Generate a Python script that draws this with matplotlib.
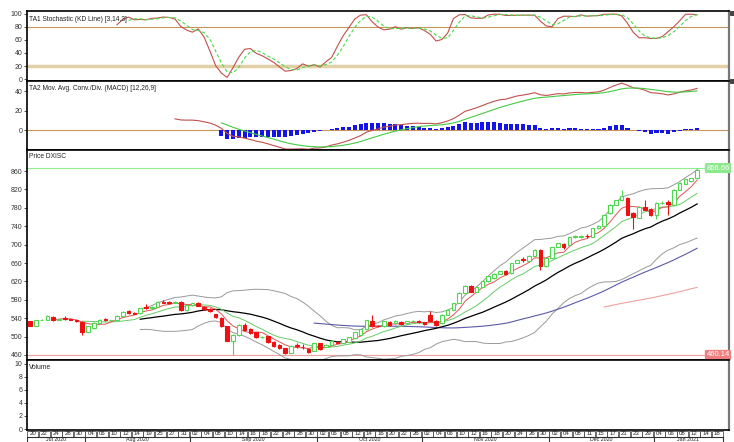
import numpy as np
import pandas as pd
import matplotlib
matplotlib.use("Agg")
import matplotlib.pyplot as plt
from matplotlib.patches import Rectangle

# daily candles (index = trading day)
opens = [533, 524, 536, 536, 543, 537, 540, 538, 535, 532, 511, 519, 530, 538, 535, 536, 545, 555, 552, 551,
         565, 562, 565, 576, 575, 574, 576, 558, 569, 573, 565, 561, 549, 540, 523, 491, 504, 525, 516, 509,
         499, 501, 489, 482, 475, 465, 481, 478, 474, 469, 485, 478, 482, 489, 487, 489, 496, 504, 516, 533,
         524, 522, 531, 529, 531, 529, 533, 534, 531, 547, 534, 529, 547, 558, 573, 595, 610, 598, 608, 620,
         627, 637, 643, 638, 660, 668, 664, 676, 689, 654, 671, 695, 702, 700, 717, 717, 719, 717, 736, 741,
         768, 787, 797, 802, 768, 758, 782, 778, 765, 790, 792, 787, 819, 833, 838, 845]
highs = [534, 536, 538, 546, 544, 539, 544, 539, 536, 533, 523, 531, 538, 540, 537, 546, 555, 557, 553, 563,
         570, 566, 577, 579, 578, 577, 578, 570, 573, 575, 567, 563, 550, 542, 524, 505, 527, 530, 518, 510,
         502, 502, 491, 483, 476, 481, 486, 483, 476, 486, 487, 483, 492, 490, 495, 500, 510, 517, 536, 546,
         526, 534, 533, 535, 533, 534, 536, 536, 532, 555, 536, 548, 559, 574, 596, 612, 612, 609, 621, 632,
         638, 643, 645, 660, 667, 674, 677, 690, 691, 672, 695, 704, 704, 717, 720, 720, 724, 737, 742, 766,
         788, 798, 819, 803, 770, 783, 797, 780, 792, 796, 798, 820, 836, 843, 846, 866.66]
lows = [522, 523, 535, 535, 534, 536, 537, 535, 532, 503, 509, 517, 529, 534, 534, 535, 544, 550, 548, 550,
        560, 561, 564, 572, 571, 572, 555, 556, 567, 566, 557, 554, 540, 520, 490, 460.14, 502, 512, 505, 497,
        497, 487, 478, 473, 463, 464, 476, 472, 465, 468, 470, 477, 481, 486, 486, 488, 495, 503, 515, 520,
        521, 521, 524, 528, 526, 528, 532, 530, 526, 532, 524, 528, 546, 557, 572, 594, 597, 597, 607, 619,
        626, 636, 634, 637, 659, 663, 663, 675, 644, 652, 670, 694, 690, 699, 715, 715, 714, 716, 735, 740,
        767, 786, 796, 764, 733, 757, 775, 763, 755, 789, 765, 786, 818, 832, 837, 844]
closes = [524, 535, 537, 545, 535, 538, 539, 536, 533, 511, 522, 530, 537, 535, 536, 545, 554, 551, 549, 562,
          562, 565, 576, 574, 573, 575, 558, 569, 572, 567, 559, 556, 542, 522, 491, 504, 525, 514, 507, 499,
          500, 489, 480, 475, 465, 480, 480, 477, 467, 485, 472, 482, 491, 487, 494, 499, 509, 516, 535, 522,
          523, 533, 525, 533, 527, 533, 534, 531, 527, 533, 525, 547, 558, 573, 595, 611, 598, 608, 620, 631,
          637, 642, 637, 659, 666, 667, 676, 689, 654, 671, 694, 703, 695, 716, 718, 718, 718, 736, 741, 765,
          787, 797, 805, 765, 760, 782, 776, 765, 791, 791, 789, 819, 835, 842, 845, 862]

day_labels = ["20", "22", "24", "28", "30",
              "04", "06", "10", "12", "14", "19", "25", "27", "31",
              "02", "04", "08", "10", "14", "16", "18", "22", "24", "28", "30",
              "02", "06", "08", "12", "14", "16", "20", "22", "26",
              "02", "04", "06", "10", "12", "16", "18", "20", "24", "26", "30",
              "02", "04", "08", "11", "15", "17", "21", "23", "29",
              "04", "06", "08", "12", "14", "18"]
months = ["Jul 2020", "Aug 2020", "Sep 2020", "Oct 2020", "Nov 2020", "Dec 2020", "Jan 2021"]
month_counts = [5, 9, 11, 9, 11, 9, 6]

plt.rcParams["font.family"] = ["Liberation Sans", "DejaVu Sans"]

df = pd.DataFrame({"open": opens, "high": highs, "low": lows, "close": closes})
n = len(df)
x = np.arange(n)
c = df["close"]

# indicators
ma5 = c.rolling(5).mean()
ma10 = c.rolling(10).mean()
ma20 = c.rolling(20).mean()
ma50 = c.rolling(50).mean()
ma100 = c.rolling(100).mean()
sd20 = c.rolling(20).std(ddof=0)
bb_up = ma20 + 2 * sd20
bb_dn = ma20 - 2 * sd20

ll = df["low"].rolling(14).min()
hh = df["high"].rolling(14).max()
k = 100 * (c - ll).rolling(3).sum() / (hh - ll).rolling(3).sum()
d = k.rolling(3).mean()

macd = c.ewm(span=12, adjust=False).mean() - c.ewm(span=26, adjust=False).mean()
macd[:25] = np.nan
signal = macd.ewm(span=9, adjust=False, ignore_na=True).mean()
signal[:33] = np.nan
hist = macd - signal

fig = plt.figure(figsize=(7.34, 4.42), dpi=100)
H = 442.0
W = 734.0
left = 26.5 / W
width = 702.5 / W


def panel(top, bottom):
    return fig.add_axes([left, 1 - bottom / H, width, (bottom - top) / H])


ax1 = panel(11, 80.5)
ax2 = panel(80.5, 149.5)
ax3 = panel(149.5, 360)
ax4 = panel(360, 430)
axd = fig.add_axes([left, 0, width, 12 / H])

xlim = (-0.6, 120.5)
for ax in (ax1, ax2, ax3, ax4):
    ax.set_xlim(*xlim)
    ax.set_xticks([])
    for s in ax.spines.values():
        s.set_linewidth(1.2)
        s.set_color("black")
    ax.spines["right"].set_color("#777777")
    ax.spines["right"].set_linewidth(1.6)
    ax.tick_params(axis="y", labelsize=5, length=2, pad=1, colors="#333333", width=0.6)

# stochastic
ax1.axhline(80, color="#c8965a", lw=0.8)
ax1.axhline(20, color="#e3cfa6", lw=2.5)
ax1.plot(x, k, color="#c0504d", lw=0.8)
ax1.plot(x, d, color="#44dd44", lw=0.8, ls=(0, (3, 2)))
ax1.set_ylim(-2, 104)
ax1.set_yticks([0, 20, 40, 60, 80, 100])
ax1.text(0.003, 0.93, "TA1 Stochastic (KD Line) [3,14,3]", transform=ax1.transAxes,
         fontsize=4.8, va="top", color="#222222")

# macd
ax2.axhline(0, color="#c8965a", lw=0.8)
ax2.bar(x, hist, width=0.7, color="#1414e6", zorder=2)
ax2.plot(x, macd, color="#c0504d", lw=0.8, zorder=3)
ax2.plot(x, signal, color="#44cc44", lw=0.8, zorder=3)
ax2.set_ylim(-19.5, 51)
ax2.set_yticks([0, 20, 40])
ax2.text(0.003, 0.93, "TA2 Mov. Avg. Conv./Div. (MACD) [12,26,9]", transform=ax2.transAxes,
         fontsize=4.8, va="top", color="#222222")

# price
hi_val = max(highs)
lo_val = min(lows)
ax3.axhline(hi_val, color="#90ee90", lw=0.8)
ax3.axhline(lo_val, color="#f4a0a0", lw=0.8)
ax3.plot(x, bb_up, color="#999999", lw=0.7)
ax3.plot(x, bb_dn, color="#999999", lw=0.7)
ax3.plot(x, ma100, color="#f0a0a0", lw=0.8)
ax3.plot(x, ma50, color="#5a5aa8", lw=0.8)
ax3.plot(x, ma20, color="black", lw=0.9)
ax3.plot(x, ma10, color="#66cc66", lw=0.7)
ax3.plot(x, ma5, color="#e05555", lw=0.7)

up = df["close"] >= df["open"]
col = np.where(up, "#4fd84f", "#ee1111")
ax3.vlines(x, df["low"], df["high"], colors=col, lw=0.8, zorder=3)
body_lo = np.minimum(df["open"], df["close"])
body_h = np.maximum((df["close"] - df["open"]).abs(), 0.8)
ax3.bar(x, body_h, bottom=body_lo, width=0.62, color=np.where(up, "white", "#ee1111"),
        edgecolor=col, lw=0.8, zorder=4)
ax3.set_ylim(449, 907)
ax3.set_yticks(range(460, 861, 40))
ax3.text(0.003, 0.985, "Price DXISC", transform=ax3.transAxes, fontsize=4.8, va="top", color="#222222")
ax3.text(116.6, hi_val, "%.2f" % hi_val, fontsize=5.5, color="white", va="center", ha="left", zorder=5,
         bbox=dict(boxstyle="round,pad=0.2", fc="#8ee88e", ec="none"))
ax3.text(116.6, lo_val, "%.2f" % lo_val, fontsize=5.5, color="white", va="center", ha="left", zorder=5,
         bbox=dict(boxstyle="round,pad=0.2", fc="#f08080", ec="none"))

# volume
ax4.set_ylim(-0.15, 10.6)
ax4.set_yticks(range(0, 11, 2))
ax4.text(0.003, 0.94, "Volume", transform=ax4.transAxes, fontsize=4.8, va="top", color="#222222")

# date axis (y in pixels from the top of the strip)
axd.set_xlim(*xlim)
axd.set_ylim(12, 0)
axd.axis("off")
for i, lab in enumerate(day_labels):
    x0 = 2 * i - 0.45
    axd.add_patch(Rectangle((x0, 0.5), 1.9, 6.3, fill=False, ec="#555555", lw=0.6))
    axd.text(2 * i + 0.5, 3.8, lab, fontsize=4.4, ha="center", va="center", color="#222222")
axd.plot([-0.5, 119.5], [7.0, 7.0], color="#333333", lw=0.8)
start = 0
for m, cnt in zip(months, month_counts):
    a = 2 * start - 0.5
    b = 2 * (start + cnt) - 0.5
    axd.plot([b, b], [7.0, 12], color="#333333", lw=0.8)
    axd.text((a + b) / 2, 11.7, m, fontsize=3.8, ha="center", va="bottom", color="#222222")
    start += cnt
axd.plot([-0.5, -0.5], [7.0, 12], color="#333333", lw=0.8)

# small corner boxes
for yy in (11, 79):
    fig.patches.append(Rectangle((729.5 / W, 1 - (yy + 4) / H), 4 / W, 4 / H, transform=fig.transFigure,
                                 fc="#444444", ec="#222222", lw=0.5))

fig.savefig("out.png", dpi=100)
